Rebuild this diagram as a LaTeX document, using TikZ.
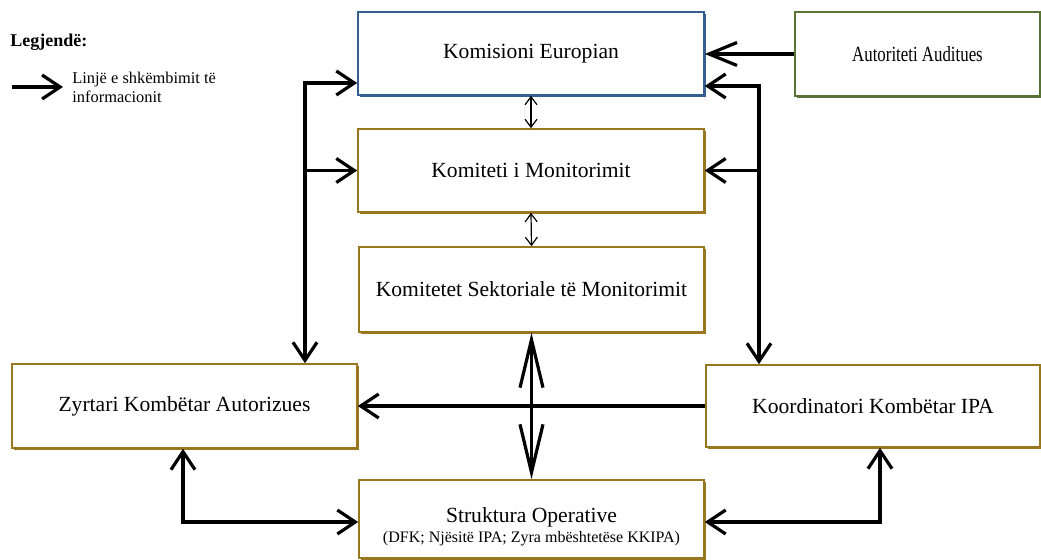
\documentclass[tikz,border=0pt]{standalone}
\usepackage{fontspec}
\setmainfont{Liberation Serif}
\usepackage{graphicx}
\usepackage{xcolor}
\usetikzlibrary{arrows.meta,shadows}
\definecolor{ecblue}{RGB}{54,95,145}
\definecolor{gold}{RGB}{152,120,30}
\definecolor{audgreen}{RGB}{90,115,55}

\begin{document}
\begin{tikzpicture}[x=0.5pt,y=-0.5pt,
  box/.style={draw=#1, line width=0.8pt, fill=white, inner sep=0pt,
    font=\fontsize{10.8}{13}\selectfont,
    drop shadow={shadow xshift=1.2pt, shadow yshift=-1.2pt, fill=#1, opacity=1}},
  flow/.style={line width=1.6pt, -{Straight Barb[length=9pt,width=12pt]}},
  twoway/.style={line width=1.6pt, {Straight Barb[length=9pt,width=12pt]}-{Straight Barb[length=9pt,width=12pt]}},
  thinway/.style={line width=0.6pt, {Straight Barb[length=4pt,width=6pt]}-{Straight Barb[length=4pt,width=6pt]}},
  bigway/.style={line width=1.6pt, {Straight Barb[length=24pt,width=11.5pt]}-{Straight Barb[length=24pt,width=11.5pt]}}]
  \useasboundingbox (0,0) rectangle (1041,560);

  \node[box=ecblue, minimum width=173pt, minimum height=41.5pt] (ec) at (531,53.5) {Komisioni Europian};
  \node[box=gold, minimum width=173pt, minimum height=41.5pt] (km) at (531,170.5) {Komiteti i Monitorimit};
  \node[box=gold, minimum width=172.5pt, minimum height=42.5pt] (ksm) at (531.5,289.5) {Komitetet Sektoriale të Monitorimit};
  \node[box=gold, minimum width=172.5pt, minimum height=39pt, align=center] (so) at (531.5,519)
    {\rule{0pt}{15pt}Struktura Operative\\[-3pt]{\fontsize{8}{9}\selectfont (DFK; Njësitë IPA; Zyra mbështetëse KKIPA)}};
  \node[box=audgreen, minimum width=122.5pt, minimum height=42pt] (aa) at (917.5,54) {\scalebox{0.78}[1]{Autoriteti Auditues}};
  \node[box=gold, minimum width=172.5pt, minimum height=42pt] (zka) at (184.5,406) {Zyrtari Kombëtar Autorizues};
  \node[box=gold, minimum width=167pt, minimum height=41pt] (kki) at (873,406) {Koordinatori Kombëtar IPA};

  \node[anchor=west, font=\bfseries\fontsize{9}{11}\selectfont, inner sep=0pt] (lg) at (10,42) {Legjendë:};
  \coordinate (lgA) at (12,87);
  \node[anchor=west, align=left, inner sep=4.5pt, font=\fontsize{8.2}{9.5}\selectfont] (lgtext) at (63,87)
    {Linjë e shkëmbimit të\\informacionit};
  \draw[flow] (lgA) -- (lgtext.west);

  \coordinate (ltop) at (305,83);
  \coordinate (rtop) at (759,86);
  \coordinate (lbot) at (183,522);
  \coordinate (rbot) at (880,522);

  \draw[flow, -{Straight Barb[length=14pt,width=11.5pt]}] (aa.west) -- (ec.east |- aa.west);
  \draw[twoway] (ec.west |- ltop) -- (ltop) -- (zka.north -| ltop);
  \draw[flow] (ltop |- km.west) -- (km.west);
  \draw[twoway] (ec.east |- rtop) -- (rtop) -- (kki.north -| rtop);
  \draw[flow] (rtop |- km.east) -- (km.east);
  \draw[thinway] (ec.south) -- (km.north);
  \draw[thinway] (km.south) -- (ksm.north);
  \draw[bigway] (ksm.south) -- (so.north);
  \draw[flow] (kki.west) -- (zka.east);
  \draw[twoway] (zka.south -| lbot) -- (lbot) -- (so.west |- lbot);
  \draw[twoway] (kki.south -| rbot) -- (rbot) -- (so.east |- rbot);
\end{tikzpicture}
\end{document}
